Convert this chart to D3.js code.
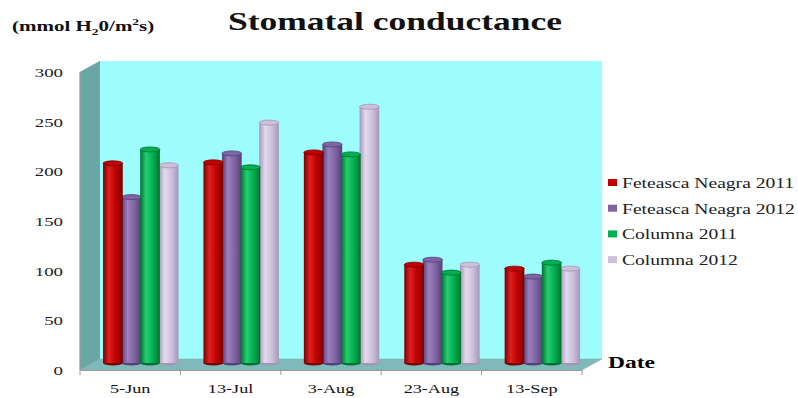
<!DOCTYPE html>
<html>
<head>
<meta charset="utf-8">
<script src="https://cdn.jsdelivr.net/npm/d3@7"></script>
<style>
  body { margin: 0; background: #fff; }
  text { font-family: "Liberation Serif", "Times New Roman", serif; }
</style>
</head>
<body>
<div id="chart"></div>
<script>
const dates = ['5-Jun', '13-Jul', '3-Aug', '23-Aug', '13-Sep'];
const seriesNames = ['Feteasca Neagra 2011', 'Feteasca Neagra 2012', 'Columna 2011', 'Columna 2012'];
const fn2011 = [201, 202, 212, 99, 95];
const fn2012 = [167, 211, 220, 104, 87];
const col2011 = [215, 197, 210, 91, 101];
const col2012 = [199, 242, 258, 99, 95];
const yTicks = [0, 50, 100, 150, 200, 250, 300];

const seriesValues = [fn2011, fn2012, col2011, col2012];
const colors = [
  { base: '#c00000', dark: '#7a0000', light: '#de2020' },
  { base: '#8064a2', dark: '#54407a', light: '#9a80bc' },
  { base: '#00b050', dark: '#00712f', light: '#26cc70' },
  { base: '#ccc0da', dark: '#a596b8', light: '#e2daec' }
];

const width = 798, height = 398;
const left = 80, right = 582, depthX = 20, depthY = -11;
const barDx = 10, barDy = -7;

const svg = d3.select('#chart').append('svg')
  .attr('width', width)
  .attr('height', height);

svg.append('rect').attr('width', width).attr('height', height).attr('fill', '#fff');

const y = d3.scaleLinear().domain([0, 300]).range([370, 72]);
const x0 = d3.scaleBand().domain(dates).range([left, right]).paddingInner(0.26).paddingOuter(0.13);
const x1 = d3.scaleBand().domain(d3.range(4)).range([0, x0.bandwidth()]);

// gradients for the cylinders
const defs = svg.append('defs');
colors.forEach((c, i) => {
  const g = defs.append('linearGradient').attr('id', 'cyl' + i).attr('x1', 0).attr('x2', 1);
  g.append('stop').attr('offset', '0%').attr('stop-color', c.dark);
  g.append('stop').attr('offset', '30%').attr('stop-color', c.light);
  g.append('stop').attr('offset', '65%').attr('stop-color', c.base);
  g.append('stop').attr('offset', '100%').attr('stop-color', c.dark);
});

// walls and floor
const yTop = y(300), yZero = y(0);
svg.append('polygon')
  .attr('points', [[left, yTop], [left + depthX, yTop + depthY], [left + depthX, yZero + depthY], [left, yZero]].join(' '))
  .attr('fill', '#6aa6a6').attr('stroke', '#8aa').attr('stroke-width', 0.5);
svg.append('rect')
  .attr('x', left + depthX).attr('y', yTop + depthY)
  .attr('width', right - left).attr('height', yZero - yTop)
  .attr('fill', '#9ffcfc');
svg.append('polygon')
  .attr('points', [[left, yZero], [right, yZero], [right + depthX, yZero + depthY], [left + depthX, yZero + depthY]].join(' '))
  .attr('fill', '#80b9b9').attr('stroke', '#8aa').attr('stroke-width', 0.5);

// bars as cylinders, purple/lilac first so red/green overlap them
const bars = [];
[1, 3, 0, 2].forEach(s => {
  dates.forEach((d, i) => bars.push({ s, d, v: seriesValues[s][i] }));
});
const bw = x1.bandwidth() * 1.06;
const ry = 2.5;
const barG = svg.append('g');
bars.forEach(b => {
  const bx = x0(b.d) + x1(b.s) + barDx;
  const top = y(b.v) + barDy;
  const bottom = yZero + barDy;
  const g = barG.append('g');
  g.append('ellipse')
    .attr('cx', bx + bw / 2).attr('cy', bottom).attr('rx', bw / 2).attr('ry', ry)
    .attr('fill', colors[b.s].dark);
  g.append('rect')
    .attr('x', bx).attr('y', top).attr('width', bw).attr('height', bottom - top)
    .attr('fill', `url(#cyl${b.s})`);
  g.append('ellipse')
    .attr('cx', bx + bw / 2).attr('cy', top).attr('rx', bw / 2).attr('ry', ry)
    .attr('fill', colors[b.s].base).attr('stroke', colors[b.s].dark).attr('stroke-width', 0.8);
});

// axis lines
svg.append('line').attr('x1', left).attr('x2', left).attr('y1', yTop).attr('y2', yZero)
  .attr('stroke', '#999').attr('stroke-width', 1);
const xAxis = svg.append('g')
  .attr('transform', `translate(0,${yZero})`)
  .call(d3.axisBottom(x0).tickSize(0).tickFormat(''));
xAxis.select('.domain').attr('stroke', '#999');
const bounds = dates.map(d => x0(d) - x0.step() * x0.paddingInner() / 2).concat([right]);
bounds[0] = left;
xAxis.selectAll('.bound').data(bounds).enter().append('line')
  .attr('x1', d => d).attr('x2', d => d).attr('y1', 0).attr('y2', 5)
  .attr('stroke', '#999');

// x labels
svg.append('g').selectAll('text').data(dates).enter().append('text')
  .attr('transform', d => `translate(${x0(d) + x0.bandwidth() / 2},393) scale(1.4,1)`)
  .attr('text-anchor', 'middle')
  .attr('font-size', 13)
  .attr('fill', '#111')
  .text(d => d);

// y labels
const yAxis = svg.append('g').attr('transform', `translate(${left},0)`)
  .call(d3.axisLeft(y).tickValues(yTicks).tickSize(0));
yAxis.select('.domain').remove();
yAxis.selectAll('text')
  .attr('x', 0).attr('dy', '0.34em')
  .attr('transform', 'translate(-17,0) scale(1.45,1)')
  .attr('font-family', '"Liberation Serif", serif')
  .attr('font-size', 13)
  .attr('fill', '#222');

// title
svg.append('text')
  .attr('x', 228).attr('y', 30)
  .attr('font-size', 26).attr('font-weight', 'bold')
  .attr('textLength', 334).attr('lengthAdjust', 'spacingAndGlyphs')
  .attr('fill', '#111')
  .text('Stomatal conductance');

// unit label
const unit = svg.append('text')
  .attr('transform', 'translate(12,31) scale(1.5,1)')
  .attr('font-size', 14).attr('font-weight', 'bold').attr('fill', '#111');
unit.append('tspan').text('(mmol H');
unit.append('tspan').attr('font-size', 9).attr('dy', 4).text('2');
unit.append('tspan').attr('dy', -4).text('0/m');
unit.append('tspan').attr('font-size', 9).attr('dy', -6).text('2');
unit.append('tspan').attr('dy', 6).text('s)');

// Date label
svg.append('text')
  .attr('transform', 'translate(608,368) scale(1.38,1)')
  .attr('font-size', 17).attr('font-weight', 'bold').attr('fill', '#000')
  .text('Date');

// legend
const legend = svg.append('g');
seriesNames.forEach((name, i) => {
  const ly = 183 + i * 25.7;
  legend.append('rect')
    .attr('x', 608).attr('y', ly - 4).attr('width', 9).attr('height', 7)
    .attr('fill', colors[i].base);
  legend.append('text')
    .attr('transform', `translate(622,${ly + 5}) scale(1.4,1)`)
    .attr('font-size', 14).attr('fill', '#222')
    .text(name);
});
</script>
</body>
</html>
